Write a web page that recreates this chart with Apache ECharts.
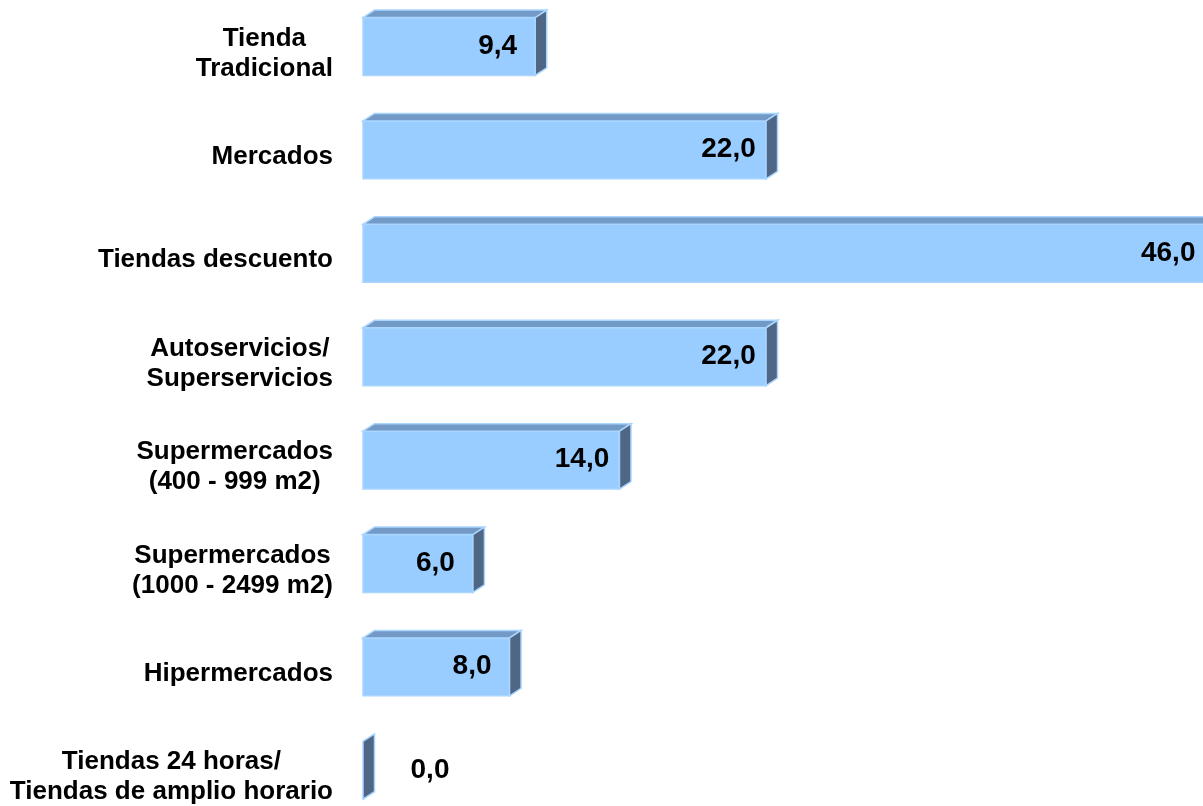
<!DOCTYPE html>
<html>
<head>
<meta charset="utf-8">
<script src="https://cdn.jsdelivr.net/npm/echarts@6/dist/echarts.min.js"></script>
<style>
html,body{margin:0;padding:0;background:#fff;}
#chart{width:1203px;height:806px;}
</style>
</head>
<body>
<div id="chart"></div>
<script>
var categories = [
  'Tienda\nTradicional',
  'Mercados',
  'Tiendas descuento',
  'Autoservicios/\nSuperservicios',
  'Supermercados\n(400 - 999 m2)',
  'Supermercados\n(1000 - 2499 m2)',
  'Hipermercados',
  'Tiendas 24 horas/\nTiendas de amplio horario'
];
var values = [9.4, 22.0, 46.0, 22.0, 14.0, 6.0, 8.0, 0.0];

var FONT = '"Liberation Sans", Arial, sans-serif';
var CAT_FONT = 'bold 26px ' + FONT;
var VAL_FONT = 'bold 28px ' + FONT;
var DX = 11.5, DY = -7.5;

function fmt(v) { return v.toFixed(1).replace('.', ','); }

var measureCtx = document.createElement('canvas').getContext('2d');
function blockWidth(text, font) {
  measureCtx.font = font;
  var w = 0;
  text.split('\n').forEach(function (line) {
    w = Math.max(w, measureCtx.measureText(line).width);
  });
  return w;
}

var chart = echarts.init(document.getElementById('chart'), null, {renderer: 'canvas'});

chart.setOption({
  animation: false,
  backgroundColor: '#ffffff',
  grid: {
    left: 363, top: -5.2, width: 916, height: 827.2,
    containLabel: false,
    outerBoundsMode: 'none'
  },
  xAxis: {
    type: 'value', min: 0, max: 50, show: false
  },
  yAxis: {
    type: 'category',
    data: categories,
    inverse: true,
    axisLine: { show: false },
    axisTick: { show: false },
    splitLine: { show: false },
    axisLabel: { show: false }
  },
  series: [{
    type: 'custom',
    data: values.map(function (v, i) { return [v, i]; }),
    encode: { x: 0, y: 1 },
    clip: false,
    renderItem: function (params, api) {
      var v = api.value(0);
      var idx = api.value(1);
      var p0 = api.coord([0, idx]);
      var p1 = api.coord([v, idx]);
      var band = api.size([0, 1])[1];
      var h = band * 0.56;
      var x0 = p0[0], x1 = p1[0];
      var yt = p0[1] - h / 2, yb = p0[1] + h / 2;
      var stroke = '#A9D5FF';
      var children = [];
      if (x1 - x0 > 0.5) {
        children.push({
          type: 'polygon',
          shape: { points: [[x0, yt], [x1, yt], [x1, yb], [x0, yb]] },
          style: { fill: '#99CCFF', stroke: stroke, lineWidth: 1.5 }
        });
        children.push({
          type: 'polygon',
          shape: { points: [[x0, yt], [x0 + DX, yt + DY], [x1 + DX, yt + DY], [x1, yt]] },
          style: { fill: '#7399C6', stroke: stroke, lineWidth: 1.5 }
        });
      }
      children.push({
        type: 'polygon',
        shape: { points: [[x1, yt], [x1 + DX, yt + DY], [x1 + DX, yb + DY], [x1, yb]] },
        style: { fill: '#4F6685', stroke: stroke, lineWidth: 1.5 }
      });
      var lx = (v > 0) ? (x1 - 37.5) : (x0 + 67);
      children.push({
        type: 'text',
        style: {
          text: fmt(v),
          x: lx,
          y: p0[1] - 0.5,
          align: 'center',
          verticalAlign: 'middle',
          fill: '#000',
          font: VAL_FONT
        }
      });
      var cat = categories[idx];
      var bw = blockWidth(cat, CAT_FONT);
      children.push({
        type: 'text',
        style: {
          text: cat,
          x: x0 - 30 - bw / 2,
          y: p0[1] + 7,
          align: 'center',
          verticalAlign: 'middle',
          lineHeight: 30,
          fill: '#000',
          font: CAT_FONT
        }
      });
      return { type: 'group', children: children };
    }
  }]
});
</script>
</body>
</html>
